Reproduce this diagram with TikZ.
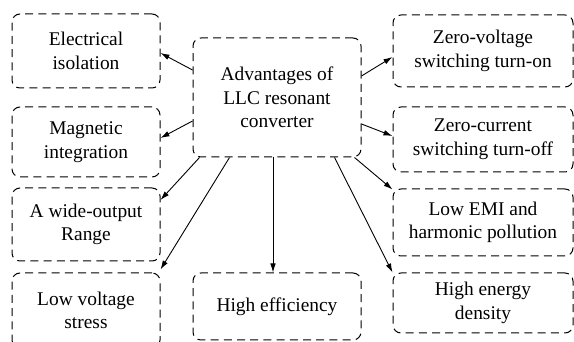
\documentclass[tikz,border=0pt]{standalone}
\usepackage{fontspec}
\setmainfont{Liberation Serif}
\usepackage{tikz}
\usetikzlibrary{calc,arrows.meta}

\tikzset{
    advbox/.style={draw, line width=0.5pt, dash pattern=on 4pt off 2.6pt,
        rounded corners=4pt, align=center, inner sep=0pt,
        font=\fontsize{9.7}{11.8}\selectfont},
    advarrow/.style={-{Latex[length=4.5pt,width=2.8pt]}, line width=0.45pt}
}

\begin{document}
\begin{tikzpicture}[x=0.5pt,y=-0.5pt]
        \clip (0,0) rectangle (574,342);
        % centre
        \node[advbox, minimum width=84pt, minimum height=59.5pt] (adv) at (277,97.5) {Advantages of\\LLC resonant\\converter};
        % left column
        \node[advbox, minimum width=74pt, minimum height=37pt]   (elec) at (86,51)    {Electrical\\isolation};
        \node[advbox, minimum width=74pt, minimum height=35pt]   (magn) at (86,142)   {Magnetic\\integration};
        \node[advbox, minimum width=74pt, minimum height=36.5pt] (wide) at (86,224.5) {A wide-output\\Range};
        \node[advbox, minimum width=74pt, minimum height=37.5pt] (lowv) at (86,310.5) {Low voltage\\stress};
        % bottom
        \node[advbox, minimum width=84pt, minimum height=33.5pt] (heff) at (277,306.5) {High efficiency};
        % right column
        \node[advbox, minimum width=90pt, minimum height=36pt]   (zvs) at (483,51)    {Zero-voltage\\switching turn-on};
        \node[advbox, minimum width=90pt, minimum height=32.5pt] (zcs) at (483,139.5) {Zero-current\\switching turn-off};
        \node[advbox, minimum width=90pt, minimum height=33.5pt] (emi) at (483,222.5) {Low EMI and\\harmonic pollution};
        \node[advbox, minimum width=90pt, minimum height=30pt]   (hed) at (483,303)   {High energy\\density};

        \draw[advarrow] ($(adv.west)+(0,-27.5)$) -- ($(elec.east)+(0,2)$);
        \draw[advarrow] ($(adv.west)+(0,23.5)$) -- ($(magn.east)+(0,-4)$);
        \draw[advarrow] ($(adv.south west)+(7,0)$) -- ($(wide.east)+(0,-24.5)$);
        \draw[advarrow] ($(adv.south west)+(37,0)$) -- ($(lowv.north east)+(0,-3)$);
        \draw[advarrow] ($(adv.south)+(-4,0)$) -- ($(heff.north)+(-4,0)$);
        \draw[advarrow] ($(adv.south east)+(-27,0)$) -- (hed.north west);
        \draw[advarrow] ($(adv.south east)+(-7,0)$) -- ($(emi.north west)+(0,1)$);
        \draw[advarrow] ($(adv.east)+(0,-21.5)$) -- ($(zvs.west)+(0,6)$);
        \draw[advarrow] ($(adv.east)+(0,26.5)$) -- ($(zcs.west)+(0,-3.5)$);
\end{tikzpicture}
\end{document}
